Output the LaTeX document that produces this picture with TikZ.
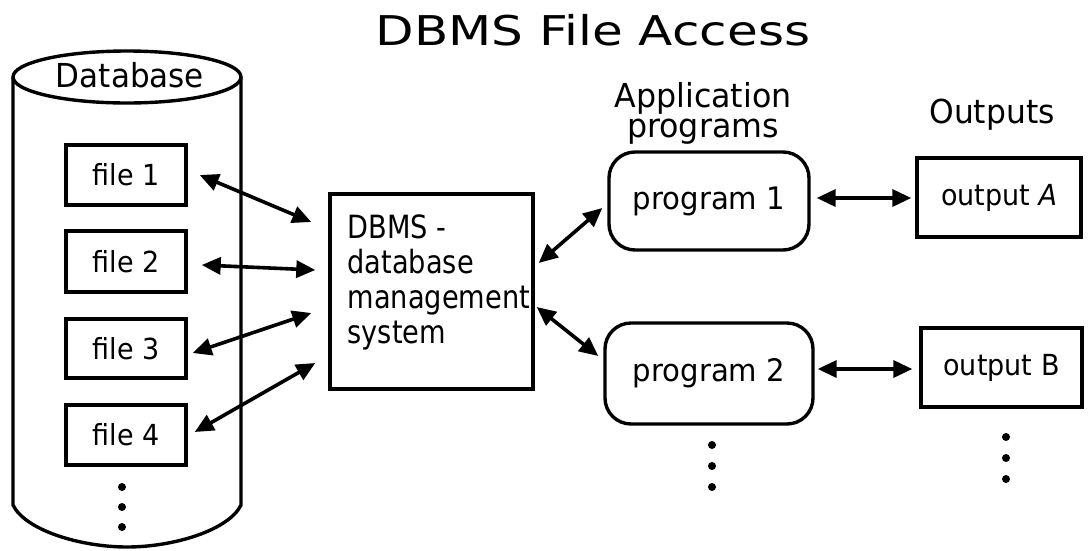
\documentclass[tikz,border=0pt]{standalone}
\usepackage{fontspec}
\setmainfont{DejaVu Sans}
\usetikzlibrary{arrows.meta,calc}
% font size and horizontal stretch in one go
\newcommand{\txtfont}[3]{\fontsize{#1}{#2}\selectfont\addfontfeature{FakeStretch=#3}}
\begin{document}
\begin{tikzpicture}[x=1pt,y=-1pt,line width=3.4pt,
  box/.style={draw,line width=3.4pt,inner sep=0pt,font=\txtfont{29}{34}{0.93}},
  prog/.style={box,rounded corners=26pt,font=\txtfont{31}{34}{0.94}},
  link/.style={line width=3.6pt,{Triangle[length=19pt,width=17pt]}-{Triangle[length=19pt,width=17pt]}},
  dotmark/.style={circle,fill,inner sep=0pt,minimum size=8pt},
  label/.style={inner sep=0pt}]
\useasboundingbox (0,0) rectangle (1088,550);

% database cylinder
\draw[line width=3.4pt] (13,77) -- (13,505)
  .. controls (25,530) and (80,547) .. (127,547)
  .. controls (174,547) and (229,530) .. (241,505) -- (241,77);
\draw[line width=3.4pt,fill=white] (127,77) ellipse [x radius=114,y radius=26];
\node[label,anchor=base,font=\txtfont{33}{34}{0.94}] (dbname) at (130,87) {Database};

% title and column headings
\node[label,anchor=base,font=\txtfont{41}{41}{1.22}] (title) at (593,45) {DBMS File Access};
\node[label,anchor=base,align=center,font=\txtfont{33}{30}{0.96}] (apps) at (703,137) {Application\\programs};
\node[label,anchor=base,font=\txtfont{33}{34}{0.95}] (outs) at (992,123) {Outputs};

% files
\node[box,minimum width=120pt,minimum height=60pt] (f1) at (126,175) {file 1};
\node[box,minimum width=120pt,minimum height=61pt] (f2) at (126,261.5) {file 2};
\node[box,minimum width=120pt,minimum height=59pt] (f3) at (126,348.5) {file 3};
\node[box,minimum width=120pt,minimum height=60pt] (f4) at (126,435) {file 4};

% DBMS
\node[box,minimum width=203pt,minimum height=195pt] (dbms) at (431.5,291.5) {};
\node[label,anchor=base west,align=left,font=\txtfont{32}{35}{0.85}] (dbmstext) at (346,343)
  {DBMS -\\database\\management\\system};

% application programs
\node[prog,minimum width=200pt,minimum height=98pt] (p1) at (709,201) {program 1};
\node[prog,minimum width=208pt,minimum height=101pt] (p2) at (709,373.5) {program 2};

% outputs
\node[box,minimum width=164pt,minimum height=79pt] (oA) at (999,197.5) {output \textit{A}};
\node[box,minimum width=161pt,minimum height=79pt] (oB) at (1001.5,367.5) {output B};

% connectors
\draw[link] ($(f1.east)+(12,0)$) -- ($(dbms.west)+(-17,-69.5)$);
\draw[link] ($(f2.east)+(14,3.5)$) -- ($(dbms.west)+(-13,-21.5)$);
\draw[link] ($(f3.east)+(5,4.5)$) -- ($(dbms.west)+(-17,21.5)$);
\draw[link] ($(f4.east)+(7,-3)$) -- ($(dbms.west)+(-13,71.5)$);
\draw[link] ($(dbms.east)+(4,-28.5)$) -- ($(p1.west)+(-5,7)$);
\draw[link] ($(dbms.east)+(2,15.5)$) -- ($(p2.west)+(-5,-17.5)$);
\draw[link] ($(p1.east)+(6,-3)$) -- ($(oA.west)+(-4,0.5)$);
\draw[link] ($(p2.east)+(3,-4.5)$) -- ($(oB.west)+(-7,1.5)$);

% continuation dots
\foreach \y [count=\i] in {487,507,527} {
  \node[dotmark] (dbdot\i) at (122,\y) {};
}
\foreach \y [count=\i] in {445,466,487} {
  \node[dotmark] (pdot\i) at (712,\y) {};
}
\foreach \y [count=\i] in {437,458,479} {
  \node[dotmark] (odot\i) at (1006,\y) {};
}
\end{tikzpicture}
\end{document}
